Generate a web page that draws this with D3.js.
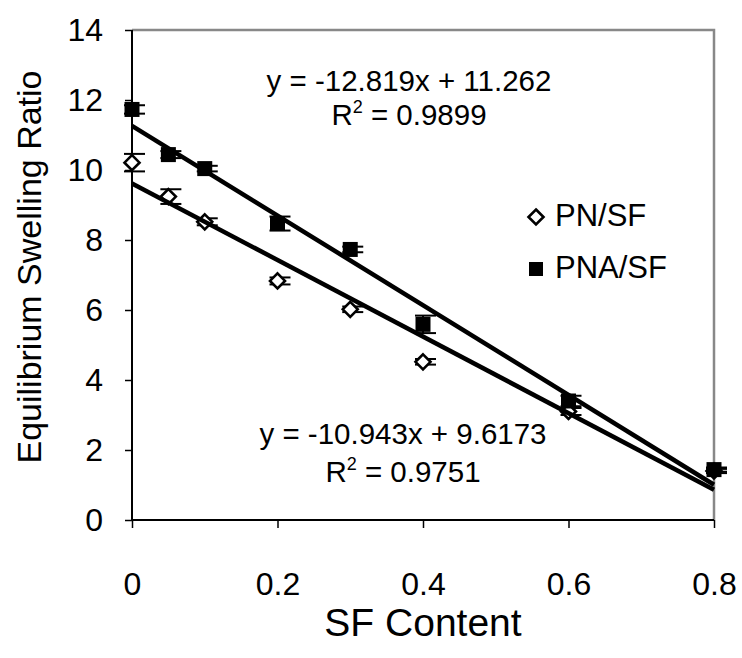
<!DOCTYPE html>
<html>
<head>
<meta charset="utf-8">
<script src="https://cdn.jsdelivr.net/npm/d3@7"></script>
<style>
  html, body { margin: 0; padding: 0; background: #fff; }
  svg { display: block; }
  text { font-family: "Liberation Sans", Arial, sans-serif; fill: #000; }
</style>
</head>
<body>
<svg id="chart" width="742" height="658"></svg>
<script>
// SF content levels (x) and measured equilibrium swelling ratios
const sfContent = [0, 0.05, 0.1, 0.2, 0.3, 0.4, 0.6, 0.8];
const pnaSf = [11.73, 10.44, 10.04, 8.47, 7.73, 5.59, 3.40, 1.44];
const pnaSfErr = [0.12, 0.10, 0.08, 0.20, 0.08, 0.25, 0.15, 0.06];
const pnSf = [10.21, 9.24, 8.52, 6.83, 6.02, 4.52, 3.10, 1.40];
const pnSfErr = [0.25, 0.21, 0.10, 0.10, 0.08, 0.08, 0.10, 0.06];

// Linear fits reported on the chart
const pnaFit = { slope: -12.819, intercept: 11.262, r2: "0.9899", eq: "y = -12.819x + 11.262" };
const pnFit = { slope: -10.943, intercept: 9.6173, r2: "0.9751", eq: "y = -10.943x + 9.6173" };

const xTicks = [0, 0.2, 0.4, 0.6, 0.8];
const xTickLabels = ["0", "0.2", "0.4", "0.6", "0.8"];
const yTicks = [0, 2, 4, 6, 8, 10, 12, 14];

const svg = d3.select("#chart");
const x = d3.scaleLinear().domain([0, 0.8]).range([132, 714]);
const y = d3.scaleLinear().domain([0, 14]).range([520, 30]);

// plot frame: grey top/right border
svg.append("path")
  .attr("d", `M${x(0)},${y(14)} H${x(0.8)} V${y(0)}`)
  .attr("fill", "none").attr("stroke", "#888").attr("stroke-width", 2.5);

// axes
const yAxis = d3.axisLeft(y).tickValues(yTicks).tickSize(7).tickPadding(22).tickFormat(d3.format("d"));
const gy = svg.append("g").attr("transform", `translate(${x(0)},0)`).call(yAxis);
const xAxis = d3.axisBottom(x).tickValues(xTicks).tickSize(8).tickPadding(44)
  .tickFormat((d, i) => xTickLabels[i]);
const gx = svg.append("g").attr("transform", `translate(0,${y(0)})`).call(xAxis);

[gx, gy].forEach(g => {
  g.select(".domain").attr("stroke", "#000").attr("stroke-width", 2);
  g.selectAll(".tick line").attr("stroke", "#000").attr("stroke-width", 1.5);
  g.selectAll(".tick text").attr("font-family", "Liberation Sans, Arial, sans-serif")
    .attr("font-size", 32).attr("fill", "#000");
});
gx.select(".domain").attr("d", `M${x(0)},0H${x(0.8)}`);
gy.select(".domain").attr("d", `M0,${y(0)}V${y(14)}`);

// axis titles
svg.append("text")
  .attr("transform", `translate(41,267) rotate(-90)`)
  .attr("text-anchor", "middle").attr("font-size", 34)
  .text("Equilibrium Swelling Ratio");
svg.append("text")
  .attr("x", 423).attr("y", 636)
  .attr("text-anchor", "middle").attr("font-size", 39)
  .text("SF Content");

// error bars
function errorBars(vals, errs) {
  const g = svg.append("g").attr("stroke", "#000").attr("stroke-width", 2);
  sfContent.forEach((sx, i) => {
    const cx = x(sx), top = y(vals[i] + errs[i]), bot = y(vals[i] - errs[i]);
    g.append("line").attr("x1", cx).attr("x2", cx).attr("y1", top).attr("y2", bot);
    g.append("line").attr("x1", cx - 8).attr("x2", cx + 13).attr("y1", top).attr("y2", top);
    g.append("line").attr("x1", cx - 8).attr("x2", cx + 13).attr("y1", bot).attr("y2", bot);
  });
}
errorBars(pnSf, pnSfErr);
errorBars(pnaSf, pnaSfErr);

// markers
const diamond = (cx, cy, r) => `M${cx},${cy - r}L${cx + r},${cy}L${cx},${cy + r}L${cx - r},${cy}Z`;
svg.append("g").selectAll("path").data(pnSf).join("path")
  .attr("d", (d, i) => diamond(x(sfContent[i]), y(d), 7.5))
  .attr("fill", "#fff").attr("stroke", "#000").attr("stroke-width", 2.6);
svg.append("g").selectAll("rect").data(pnaSf).join("rect")
  .attr("x", (d, i) => x(sfContent[i]) - 7.5).attr("y", d => y(d) - 7.5)
  .attr("width", 15).attr("height", 15).attr("fill", "#000");

// trend lines
[pnaFit, pnFit].forEach(f => {
  svg.append("line")
    .attr("x1", x(0)).attr("y1", y(f.intercept))
    .attr("x2", x(0.8)).attr("y2", y(f.intercept + f.slope * 0.8))
    .attr("stroke", "#000").attr("stroke-width", 4.5);
});

// fit equations
function fitLabel(f, cx, y1, y2) {
  svg.append("text").attr("x", cx).attr("y", y1).attr("text-anchor", "middle")
    .attr("font-size", 29.5).text(f.eq);
  const t = svg.append("text").attr("x", cx).attr("y", y2).attr("text-anchor", "middle")
    .attr("font-size", 29.5);
  t.append("tspan").text("R");
  t.append("tspan").attr("font-size", 18).attr("dy", -12).text("2");
  t.append("tspan").attr("dy", 12).text(" = " + f.r2);
}
fitLabel(pnaFit, 409, 91, 125);
fitLabel(pnFit, 403, 444, 482);

// legend
const lg = svg.append("g");
lg.append("path").attr("d", diamond(536, 217, 7.5))
  .attr("fill", "#fff").attr("stroke", "#000").attr("stroke-width", 2.6);
lg.append("text").attr("x", 555).attr("y", 226).attr("font-size", 31).text("PN/SF");
lg.append("rect").attr("x", 529).attr("y", 262).attr("width", 14).attr("height", 14).attr("fill", "#000");
lg.append("text").attr("x", 555).attr("y", 278).attr("font-size", 31).text("PNA/SF");
</script>
</body>
</html>
